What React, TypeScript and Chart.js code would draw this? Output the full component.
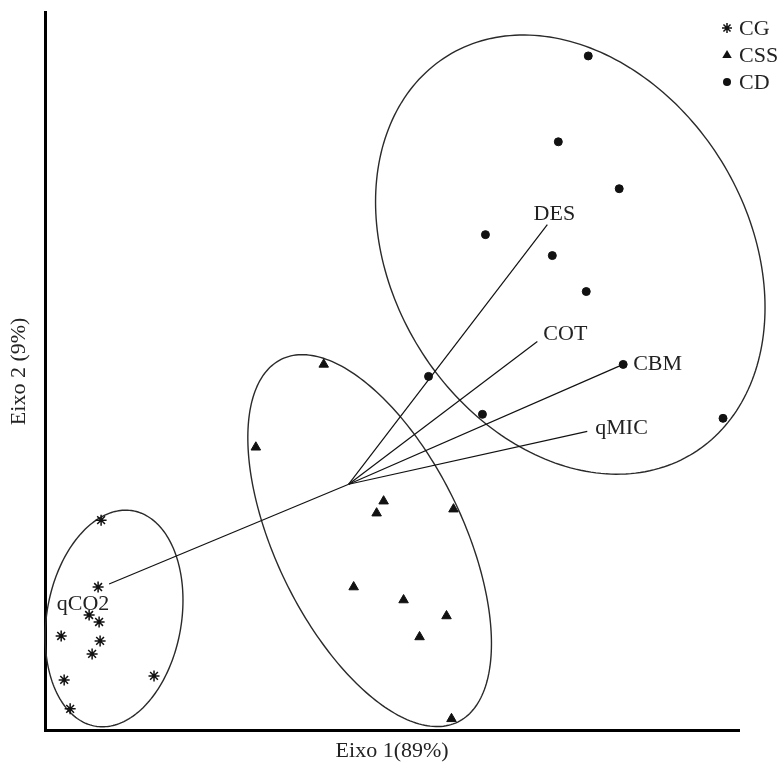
import React, { useEffect, useRef } from 'react';
import { Chart, registerables } from 'chart.js';

Chart.register(...registerables);

// Group names (legend)
const groupNames = ['CG', 'CSS', 'CD'];

// Scores (Eixo 1, Eixo 2)
const cgX = [-2.48, -2.51, -2.6, -2.5, -2.88, -2.49, -2.57, -2.85, -1.95, -2.79];
const cgY = [-0.36, -1.03, -1.31, -1.38, -1.52, -1.57, -1.7, -1.96, -1.92, -2.25];

const cssX = [-0.25, -0.93, 0.35, 0.28, 1.05, 0.05, 0.55, 0.98, 0.71, 1.03];
const cssY = [1.2, 0.37, -0.17, -0.29, -0.25, -1.03, -1.16, -1.32, -1.53, -2.35];

const cdX = [2.4, 2.1, 2.71, 1.37, 2.04, 2.38, 0.8, 2.75, 1.34, 3.75];
const cdY = [4.29, 3.43, 2.96, 2.5, 2.29, 1.93, 1.08, 1.2, 0.7, 0.66];

// Variable vectors
const vectorNames = ['DES', 'COT', 'CBM', 'qMIC', 'qCO2'];
const vectorX = [1.99, 1.89, 2.75, 2.39, -2.4];
const vectorY = [2.6, 1.43, 1.2, 0.53, -1.0];

// Group ellipses (center, semi-axes, rotation in degrees)
const ellipseCX = [-2.35, 0.21, 2.22];
const ellipseCY = [-1.345, -0.565, 2.3];
const ellipseA = [1.095, 2.02, 2.34];
const ellipseB = [0.674, 0.937, 1.78];
const ellipseAngle = [80.1, -64.1, -58.3];

// Axis ranges and titles
const xRange = [-3.04, 3.91];
const yRange = [-2.47, 4.73];
const xTitle = 'Eixo 1(89%)';
const yTitle = 'Eixo 2 (9%)';

const FONT = "'Liberation Serif', 'Times New Roman', serif";
const INK = '#111';

// label placement styles (pixel offsets from vector tips)
const labelStyle: Record<string, { align: CanvasTextAlign; dx: number; dy: number }> = {
  DES: { align: 'center', dx: 7, dy: -10 },
  COT: { align: 'left', dx: 6, dy: -7 },
  CBM: { align: 'left', dx: 10, dy: 0 },
  qMIC: { align: 'left', dx: 8, dy: -3 },
  qCO2: { align: 'center', dx: -26, dy: 20 },
};

const markerStyles = ['star', 'triangle', 'circle'];

function drawMarker(ctx: CanvasRenderingContext2D, style: string, x: number, y: number, r: number) {
  ctx.save();
  ctx.fillStyle = INK;
  ctx.strokeStyle = INK;
  ctx.lineWidth = 1.5;
  ctx.beginPath();
  if (style === 'star') {
    for (let i = 0; i < 4; i++) {
      const a = (i * Math.PI) / 4;
      ctx.moveTo(x - Math.cos(a) * r, y - Math.sin(a) * r);
      ctx.lineTo(x + Math.cos(a) * r, y + Math.sin(a) * r);
    }
    ctx.stroke();
  } else if (style === 'triangle') {
    ctx.moveTo(x, y - r);
    ctx.lineTo(x + r * 0.95, y + r * 0.6);
    ctx.lineTo(x - r * 0.95, y + r * 0.6);
    ctx.closePath();
    ctx.fill();
  } else {
    ctx.arc(x, y, r, 0, Math.PI * 2);
    ctx.fill();
  }
  ctx.restore();
}

const ellipsePlugin = {
  id: 'groupEllipses',
  beforeDatasetsDraw(chart: any) {
    const xs = chart.scales.x;
    const ys = chart.scales.y;
    const ctx = chart.ctx as CanvasRenderingContext2D;
    ctx.save();
    ctx.strokeStyle = '#2a2a2a';
    ctx.lineWidth = 1.4;
    for (let e = 0; e < ellipseCX.length; e++) {
      const phi = (ellipseAngle[e] * Math.PI) / 180;
      ctx.beginPath();
      const n = 240;
      for (let i = 0; i <= n; i++) {
        const t = (i / n) * Math.PI * 2;
        const ux = ellipseA[e] * Math.cos(t);
        const uy = ellipseB[e] * Math.sin(t);
        const dx = ellipseCX[e] + ux * Math.cos(phi) - uy * Math.sin(phi);
        const dy = ellipseCY[e] + ux * Math.sin(phi) + uy * Math.cos(phi);
        const px = xs.getPixelForValue(dx);
        const py = ys.getPixelForValue(dy);
        if (i === 0) ctx.moveTo(px, py);
        else ctx.lineTo(px, py);
      }
      ctx.closePath();
      ctx.stroke();
    }
    ctx.restore();
  },
};

const labelPlugin = {
  id: 'vectorLabels',
  afterDatasetsDraw(chart: any) {
    const xs = chart.scales.x;
    const ys = chart.scales.y;
    const ctx = chart.ctx as CanvasRenderingContext2D;
    ctx.save();
    ctx.font = `22px ${FONT}`;
    ctx.fillStyle = '#222';
    ctx.textBaseline = 'middle';
    vectorNames.forEach((name, i) => {
      const st = labelStyle[name];
      const px = xs.getPixelForValue(vectorX[i]);
      const py = ys.getPixelForValue(vectorY[i]);
      ctx.textAlign = st.align;
      ctx.fillText(name, px + st.dx, py + st.dy);
    });
    ctx.restore();
  },
};

const legendPlugin = {
  id: 'cornerLegend',
  afterDraw(chart: any) {
    const ctx = chart.ctx as CanvasRenderingContext2D;
    const area = chart.chartArea;
    const mx = area.right - 12;
    const tx = area.right;
    const rows = [28, 55, 82];
    ctx.save();
    ctx.font = `22px ${FONT}`;
    ctx.fillStyle = '#222';
    ctx.textBaseline = 'middle';
    ctx.textAlign = 'left';
    groupNames.forEach((name, i) => {
      drawMarker(ctx, markerStyles[i], mx, rows[i], i === 2 ? 4 : 5);
      ctx.fillStyle = '#222';
      ctx.fillText(name, tx, rows[i] + 1);
    });
    ctx.restore();
  },
};

function pts(xs: number[], ys: number[]) {
  return xs.map((x, i) => ({ x, y: ys[i] }));
}

export default function App() {
  const ref = useRef<HTMLCanvasElement>(null);
  useEffect(() => {
    const vectorSets = vectorNames.map((name, i) => ({
      label: name,
      data: [
        { x: 0, y: 0 },
        { x: vectorX[i], y: vectorY[i] },
      ],
      showLine: true,
      borderColor: INK,
      borderWidth: 1.2,
      pointRadius: 0,
      clip: false as any,
      order: 5,
    }));
    const chart = new Chart(ref.current as HTMLCanvasElement, {
      type: 'scatter',
      data: {
        datasets: [
          ...vectorSets,
          {
            label: groupNames[0],
            data: pts(cgX, cgY),
            pointStyle: 'star',
            pointRadius: 5.5,
            borderColor: INK,
            backgroundColor: INK,
            borderWidth: 1.5,
            clip: false as any,
            order: 1,
          },
          {
            label: groupNames[1],
            data: pts(cssX, cssY),
            pointStyle: 'triangle',
            pointRadius: 5.5,
            borderColor: INK,
            backgroundColor: INK,
            borderWidth: 1,
            clip: false as any,
            order: 1,
          },
          {
            label: groupNames[2],
            data: pts(cdX, cdY),
            pointStyle: 'circle',
            pointRadius: 4,
            borderColor: INK,
            backgroundColor: INK,
            borderWidth: 1,
            clip: false as any,
            order: 1,
          },
        ] as any,
      },
      options: {
        animation: false,
        responsive: false,
        devicePixelRatio: 1,
        layout: { padding: { left: 0, right: 45, top: 12, bottom: 4.4 } },
        plugins: {
          legend: { display: false },
          tooltip: { enabled: false },
        },
        scales: {
          x: {
            type: 'linear',
            position: 'bottom',
            min: xRange[0],
            max: xRange[1],
            grid: { display: false, drawTicks: false },
            ticks: { display: false },
            border: { display: true, width: 3, color: '#000' },
            title: {
              display: true,
              text: xTitle,
              color: '#222',
              font: { family: FONT, size: 22 },
              padding: { top: 7.4, bottom: 0 },
            },
          },
          y: {
            type: 'linear',
            position: 'left',
            min: yRange[0],
            max: yRange[1],
            grid: { display: false, drawTicks: false },
            ticks: { display: false },
            border: { display: true, width: 3, color: '#000' },
            title: {
              display: true,
              text: yTitle,
              color: '#222',
              font: { family: FONT, size: 22 },
              padding: { top: 6.4, bottom: 12.4 },
            },
          },
        },
      } as any,
      plugins: [ellipsePlugin, labelPlugin, legendPlugin],
    });
    return () => chart.destroy();
  }, []);
  return (
    <div style={{ position: 'absolute', left: 0, top: 0, width: 784, height: 769, background: '#fff' }}>
      <canvas ref={ref} width={784} height={769} style={{ display: 'block' }} />
    </div>
  );
}
